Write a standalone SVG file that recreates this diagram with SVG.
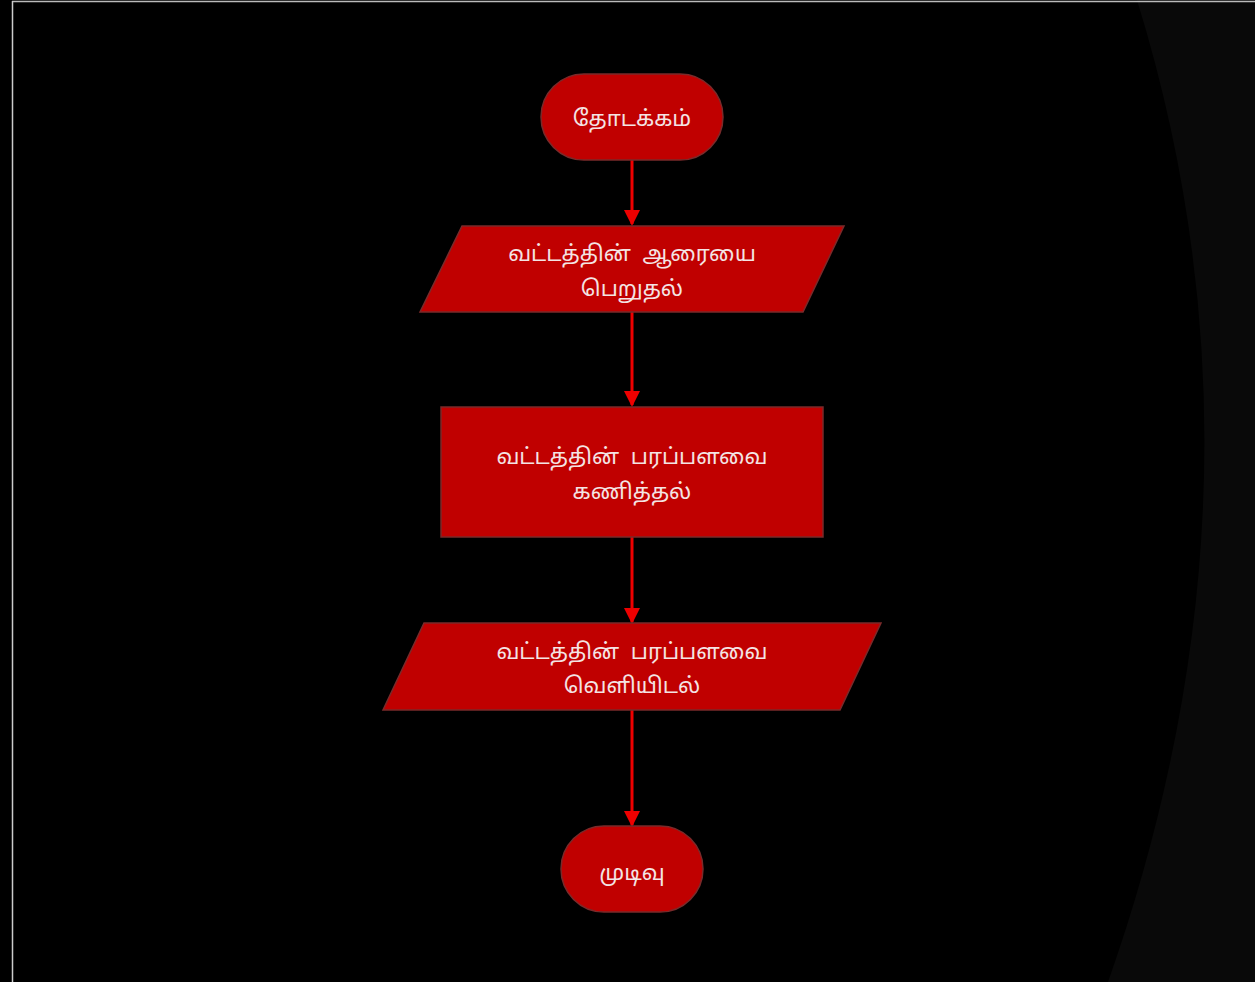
<svg xmlns="http://www.w3.org/2000/svg" width="1255" height="982" viewBox="0 0 1255 982">
<defs>
<style>
.shape{fill:#c00000;stroke:#7a2a2a;stroke-width:1.5}
.lbl{fill:#f4e4e4;font-family:"Noto Sans Tamil","Latha","Lohit Tamil","Noto Serif Tamil","Noto Sans",sans-serif;font-size:22px;text-anchor:middle;word-spacing:6px}
.conn{stroke:#ee0000;stroke-width:3;fill:none}
</style>
<marker id="ah" markerWidth="16" markerHeight="16" refX="14" refY="8" orient="auto" markerUnits="userSpaceOnUse">
<path d="M0,0 L16,8 L0,16 Z" fill="#ee0000"/>
</marker>
</defs>
<rect x="0" y="0" width="1255" height="982" fill="#000"/>
<path d="M1137,0 Q1285,480 1108,982 L1255,982 L1255,0 Z" fill="#090909"/>
<line x1="12" y1="1.5" x2="1255" y2="1.5" stroke="#bbbbbb" stroke-width="1.5"/>
<line x1="12.5" y1="1" x2="12.5" y2="982" stroke="#cccccc" stroke-width="1.5"/>
<g id="connectors">
<line class="conn" x1="632" y1="160" x2="632" y2="224" marker-end="url(#ah)"/>
<line class="conn" x1="632" y1="312" x2="632" y2="405" marker-end="url(#ah)"/>
<line class="conn" x1="632" y1="537" x2="632" y2="622" marker-end="url(#ah)"/>
<line class="conn" x1="632" y1="710" x2="632" y2="825" marker-end="url(#ah)"/>
</g>
<g id="start">
<rect class="shape" x="541" y="74" width="182" height="86" rx="43" ry="43"/>
<text class="lbl" x="632" y="126">தோடக்கம்</text>
</g>
<g id="input">
<polygon class="shape" points="462,226 844,226 803,312 420,312"/>
<text class="lbl" x="632" y="261">வட்டத்தின் ஆரையை</text>
<text class="lbl" x="632" y="296">பெறுதல்</text>
</g>
<g id="process">
<rect class="shape" x="441" y="407" width="382" height="130"/>
<text class="lbl" x="632" y="464">வட்டத்தின் பரப்பளவை</text>
<text class="lbl" x="632" y="499">கணித்தல்</text>
</g>
<g id="output">
<polygon class="shape" points="424,623 881,623 840,710 383,710"/>
<text class="lbl" x="632" y="659">வட்டத்தின் பரப்பளவை</text>
<text class="lbl" x="632" y="693">வெளியிடல்</text>
</g>
<g id="end">
<rect class="shape" x="561" y="826" width="142" height="86" rx="43" ry="43"/>
<text class="lbl" x="632" y="880">முடிவு</text>
</g>
</svg>
